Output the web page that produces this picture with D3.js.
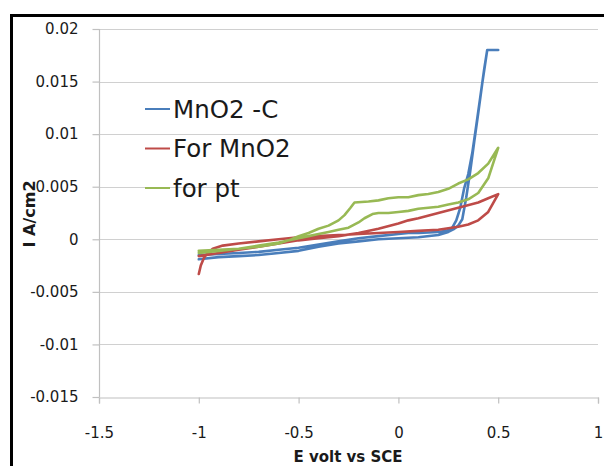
<!DOCTYPE html>
<html>
<head>
<meta charset="utf-8">
<script src="https://cdn.jsdelivr.net/npm/d3@7"></script>
<style>
  html, body { margin: 0; padding: 0; background: #fff; }
  svg { display: block; }
  text { font-family: "DejaVu Sans", sans-serif; fill: #1a1a1a; }
</style>
</head>
<body>
<svg id="chart" width="604" height="466"></svg>
<script>
// Cyclic voltammograms: potential (V vs SCE) and current density (A/cm2), one loop per electrode
const seriesNames = ["MnO2 -C", "For MnO2", "for pt"];

const mno2cPotential = [-1, -0.9, -0.8, -0.7, -0.6, -0.5, -0.4, -0.3, -0.2, -0.1, 0, 0.1, 0.2, 0.25, 0.28, 0.3, 0.32, 0.34, 0.36, 0.38, 0.4, 0.42, 0.445, 0.5,
  0.445, 0.43, 0.41, 0.39, 0.37, 0.35, 0.33, 0.31, 0.29, 0.27, 0.24, 0.2, 0.1, 0.05, 0, -0.1, -0.2, -0.3, -0.4, -0.5, -0.6, -0.7, -0.8, -0.9, -1];
const mno2cCurrent = [-0.0019, -0.0017, -0.0016, -0.0015, -0.0013, -0.0011, -0.0007, -0.0004, -0.0002, 0.0000, 0.0001, 0.0002, 0.0004, 0.0007, 0.0010, 0.0013, 0.0019, 0.0040, 0.0065, 0.0093, 0.0120, 0.0148, 0.0180, 0.0180,
  0.0180, 0.0162, 0.0135, 0.0108, 0.0082, 0.0062, 0.0049, 0.0030, 0.0018, 0.0011, 0.0008, 0.0007, 0.0006, 0.0006, 0.0005, 0.0003, 0.0001, -0.0002, -0.0005, -0.0008, -0.0010, -0.0012, -0.0013, -0.0014, -0.0015];

const forMno2Potential = [-1, -0.99, -0.975, -0.96, -0.93, -0.88, -0.8, -0.7, -0.6, -0.5, -0.4, -0.3, -0.2, -0.1, 0, 0.1, 0.2, 0.3, 0.35, 0.4, 0.45, 0.5,
  0.45, 0.4, 0.3, 0.2, 0.1, 0.05, 0, -0.1, -0.2, -0.3, -0.4, -0.5, -0.6, -0.7, -0.8, -0.9, -1];
const forMno2Current = [-0.0033, -0.0025, -0.0018, -0.0014, -0.0009, -0.0006, -0.0004, -0.0002, 0.0000, 0.0002, 0.0003, 0.0004, 0.0005, 0.0006, 0.0007, 0.0008, 0.0009, 0.0012, 0.0014, 0.0018, 0.0026, 0.0043,
  0.0039, 0.0035, 0.0030, 0.0025, 0.0020, 0.0018, 0.0015, 0.0010, 0.0006, 0.0003, 0.0001, -0.0001, -0.0004, -0.0007, -0.0010, -0.0013, -0.0016];

const ptPotential = [-1, -0.9, -0.8, -0.7, -0.6, -0.55, -0.5, -0.45, -0.4, -0.35, -0.3, -0.27, -0.24, -0.22, -0.15, -0.1, -0.05, 0, 0.05, 0.1, 0.15, 0.2, 0.25, 0.3, 0.35, 0.4, 0.45, 0.5,
  0.45, 0.4, 0.35, 0.3, 0.25, 0.2, 0.15, 0.1, 0.05, 0, -0.05, -0.1, -0.13, -0.17, -0.2, -0.25, -0.3, -0.35, -0.4, -0.45, -0.5, -0.6, -0.7, -0.8, -0.9, -1];
const ptCurrent = [-0.0011, -0.0010, -0.0009, -0.0007, -0.0004, -0.0001, 0.0003, 0.0006, 0.0010, 0.0013, 0.0018, 0.0023, 0.0030, 0.0035, 0.0036, 0.0037, 0.0039, 0.0040, 0.0040, 0.0042, 0.0043, 0.0045, 0.0048, 0.0053, 0.0057, 0.0063, 0.0072, 0.0087,
  0.0058, 0.0044, 0.0038, 0.0035, 0.0033, 0.0031, 0.0030, 0.0029, 0.0027, 0.0026, 0.0025, 0.0025, 0.0024, 0.0020, 0.0016, 0.0011, 0.0009, 0.0007, 0.0005, 0.0003, 0.0001, -0.0003, -0.0006, -0.0009, -0.0011, -0.0013];

const xTicks = [-1.5, -1, -0.5, 0, 0.5, 1];
const yTicks = [-0.015, -0.01, -0.005, 0, 0.005, 0.01, 0.015, 0.02];

const svg = d3.select("#chart");
const colors = ["#4a7ebb", "#be4b48", "#98b954"];

// Outer frame (top and left edges visible)
svg.append("line").attr("x1", 11.5).attr("x2", 604).attr("y1", 15.5).attr("y2", 15.5)
  .attr("stroke", "#000").attr("stroke-width", 3);
svg.append("line").attr("x1", 11.5).attr("x2", 11.5).attr("y1", 14).attr("y2", 466)
  .attr("stroke", "#000").attr("stroke-width", 3);

const x = d3.scaleLinear().domain([-1.5, 1]).range([99, 598]);
const y = d3.scaleLinear().domain([-0.015, 0.02]).range([397, 29]);

// Plain hyphen-minus labels, as in a spreadsheet chart
const plain = d => String(+(+d).toFixed(3));

// Horizontal gridlines
svg.append("g").selectAll("line").data(yTicks.filter(t => t > -0.015)).join("line")
  .attr("x1", x(-1.5)).attr("x2", x(1))
  .attr("y1", d => Math.round(y(d)) + 0.5).attr("y2", d => Math.round(y(d)) + 0.5)
  .attr("stroke", "#d0d0d0").attr("stroke-width", 1.2);

// Y axis
const yAxis = svg.append("g").attr("transform", `translate(${x(-1.5) + 0.5},0)`)
  .call(d3.axisLeft(y).tickValues(yTicks).tickSize(7).tickPadding(14).tickFormat(plain));
// X axis along the bottom
const xAxis = svg.append("g").attr("transform", `translate(0,${Math.round(y(-0.015)) + 0.5})`)
  .call(d3.axisBottom(x).tickValues(xTicks).tickSize(6).tickPadding(24).tickFormat(plain));

[yAxis, xAxis].forEach(g => {
  g.select(".domain").attr("stroke", "#c0c0c0").attr("stroke-width", 1.2);
  g.selectAll(".tick line").attr("stroke", "#c0c0c0").attr("stroke-width", 1.2);
  g.selectAll(".tick text").attr("font-family", "DejaVu Sans, sans-serif")
    .attr("font-size", 15).attr("fill", "#1a1a1a");
});
yAxis.select(".domain").attr("d", `M0,${y(0.02)}V${y(-0.015)}`);

// Axis titles
svg.append("text").attr("x", 348).attr("y", 462).attr("text-anchor", "middle")
  .attr("font-size", 15).attr("font-weight", "bold").text("E volt vs SCE");
svg.append("text").attr("transform", "translate(35,214) rotate(-90)").attr("text-anchor", "middle")
  .attr("font-size", 16).attr("font-weight", "bold").text("I  A/cm2");

// Curves
const series = [
  { name: seriesNames[0], E: mno2cPotential, I: mno2cCurrent },
  { name: seriesNames[1], E: forMno2Potential, I: forMno2Current },
  { name: seriesNames[2], E: ptPotential, I: ptCurrent }
];
const line = d3.line().x(d => x(d[0])).y(d => y(d[1])).curve(d3.curveLinear);
svg.append("g").selectAll("path").data(series).join("path")
  .attr("d", s => line(s.E.map((e, i) => [e, s.I[i]])))
  .attr("fill", "none")
  .attr("stroke", (s, i) => colors[i])
  .attr("stroke-width", 2.6)
  .attr("stroke-linejoin", "round")
  .attr("stroke-linecap", "round");

// Legend
const legend = svg.append("g").selectAll("g").data(series).join("g")
  .attr("transform", (s, i) => `translate(145,${109 + i * 39.5})`);
legend.append("line").attr("x1", 0).attr("x2", 25).attr("y1", 0).attr("y2", 0)
  .attr("stroke", (s, i) => colors[i]).attr("stroke-width", 2);
legend.append("text").attr("x", 28).attr("y", 8.5).attr("font-size", 24.5)
  .text(s => s.name);
</script>
</body>
</html>
